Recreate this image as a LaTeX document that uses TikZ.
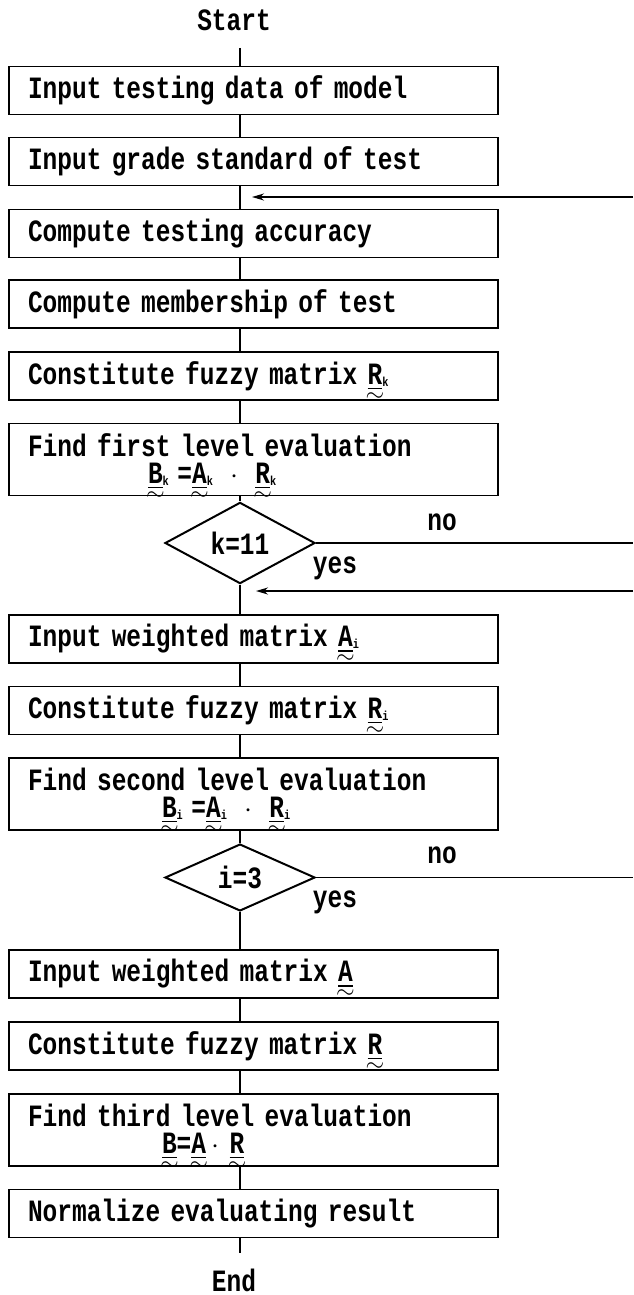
\documentclass[tikz,border=0pt]{standalone}
\usepackage{amsmath}
\usepackage{fontspec}
\usetikzlibrary{shapes.geometric,arrows.meta}
\newfontfamily\flowfont{Liberation Mono}[FakeStretch=0.79]
% fuzzy letter: underlined, tilde close below, small index
\newsavebox\fzbox
\newcommand\fz[2]{\sbox\fzbox{\underline{#1}}%
  \smash{\vtop{\offinterlineskip\copy\fzbox\kern1.2pt
    \hbox to\wd\fzbox{\hss\fontsize{12}{12}\selectfont$\sim$\hss}}}%
  \raisebox{-1pt}{\fontsize{6.5}{6.5}\selectfont #2}}

\begin{document}
\begin{tikzpicture}[x=0.5pt,y=-0.5pt,
  every node/.style={font=\flowfont\bfseries\fontsize{15.5}{13.5}\selectfont},
  stepbox/.style={draw,line width=0.8pt,minimum width=244.5pt,minimum height=24pt,
    inner xsep=9.5pt,inner ysep=0pt,text width=225.5pt,align=left},
  tallbox/.style={stepbox,minimum height=36pt},
  testbox/.style={draw,diamond,line width=1pt,inner sep=0pt,minimum width=75pt},
  flow/.style={line width=0.8pt},
  back/.style={line width=0.8pt,-{Stealth[length=6pt,width=3.5pt]}}]
\useasboundingbox (0,0) rectangle (633,1295);
\coordinate (sp) at (240,0);
\node (start) at (234,20) {Start};
\coordinate (starttail) at (240,48);
\node[stepbox] (data) at (253.5,90.5) {Input testing data of model};
\node[stepbox] (grade) at (253.5,161.5) {Input grade standard of test};
\node[stepbox] (acc) at (253.5,233.5) {Compute testing accuracy};
\node[stepbox] (memb) at (253.5,304) {Compute membership of test};
\node[stepbox] (rk) at (253.5,376) {Constitute fuzzy matrix \fz{R}{k}};
\node[tallbox] (bk) at (253.5,459.5) {Find first level evaluation\\[0pt]
  \hspace*{60pt}\fz{B}{k}\;=\fz{A}{k}\;\;$\cdot$\;\;\fz{R}{k}};
\node[testbox,minimum height=32.5pt] (ktest) at (240,543) {k=11};
\node[stepbox] (ai) at (253.5,639) {Input weighted matrix \fz{A}{i}};
\node[stepbox] (ri) at (253.5,710.5) {Constitute fuzzy matrix \fz{R}{i}};
\node[tallbox] (bi) at (253.5,794) {Find second level evaluation\\[0pt]
  \hspace*{67pt}\fz{B}{i}\;=\fz{A}{i}\;\;$\cdot$\;\;\fz{R}{i}};
\node[testbox,minimum height=30pt] (itest) at (240,877.5) {i=3};
\node[stepbox] (a) at (253.5,974) {Input weighted matrix \fz{A}{}};
\node[stepbox] (r) at (253.5,1046) {Constitute fuzzy matrix \fz{R}{}};
\node[tallbox] (b) at (253.5,1130) {Find third level evaluation\\[0pt]
  \hspace*{67pt}\fz{B}{}=\fz{A}{}\,$\cdot$\,\,\fz{R}{}};
\node[stepbox] (norm) at (253.5,1213.5) {Normalize evaluating result};
\coordinate (endtail) at (240,1253);
\node (end) at (234,1280) {End};
% labels on the tests
\node (kno) at (442,522) {no};
\node (kyes) at (335,568) {yes};
\node (ino) at (442,855) {no};
\node (iyes) at (335,902) {yes};
% main line
\draw[flow] (starttail) -- (data.north -| sp);
\draw[flow] (data.south -| sp) -- (grade.north -| sp);
\draw[flow] (grade.south -| sp) -- (acc.north -| sp);
\draw[flow] (acc.south -| sp) -- (memb.north -| sp);
\draw[flow] (memb.south -| sp) -- (rk.north -| sp);
\draw[flow] (rk.south -| sp) -- (bk.north -| sp);
\draw[flow] (bk.south -| sp) -- (ktest.north);
\draw[flow] (ktest.south) -- (ai.north -| sp);
\draw[flow] (ai.south -| sp) -- (ri.north -| sp);
\draw[flow] (ri.south -| sp) -- (bi.north -| sp);
\draw[flow] (bi.south -| sp) -- (itest.north);
\draw[flow] (itest.south) -- (a.north -| sp);
\draw[flow] (a.south -| sp) -- (r.north -| sp);
\draw[flow] (r.south -| sp) -- (b.north -| sp);
\draw[flow] (b.south -| sp) -- (norm.north -| sp);
\draw[flow] (norm.south -| sp) -- (endtail);
% loops going off to the right
\coordinate (kout) at (633,543);
\coordinate (iout) at (633,877.5);
\coordinate (kin) at (633,197);
\coordinate (ktip) at (252,197);
\coordinate (iin) at (633,591);
\coordinate (itip) at (256,591);
\draw[flow] (ktest.east) -- (kout);
\draw[flow] (itest.east) -- (iout);
\draw[back] (kin) -- (ktip);
\draw[back] (iin) -- (itip);
\end{tikzpicture}
\end{document}
